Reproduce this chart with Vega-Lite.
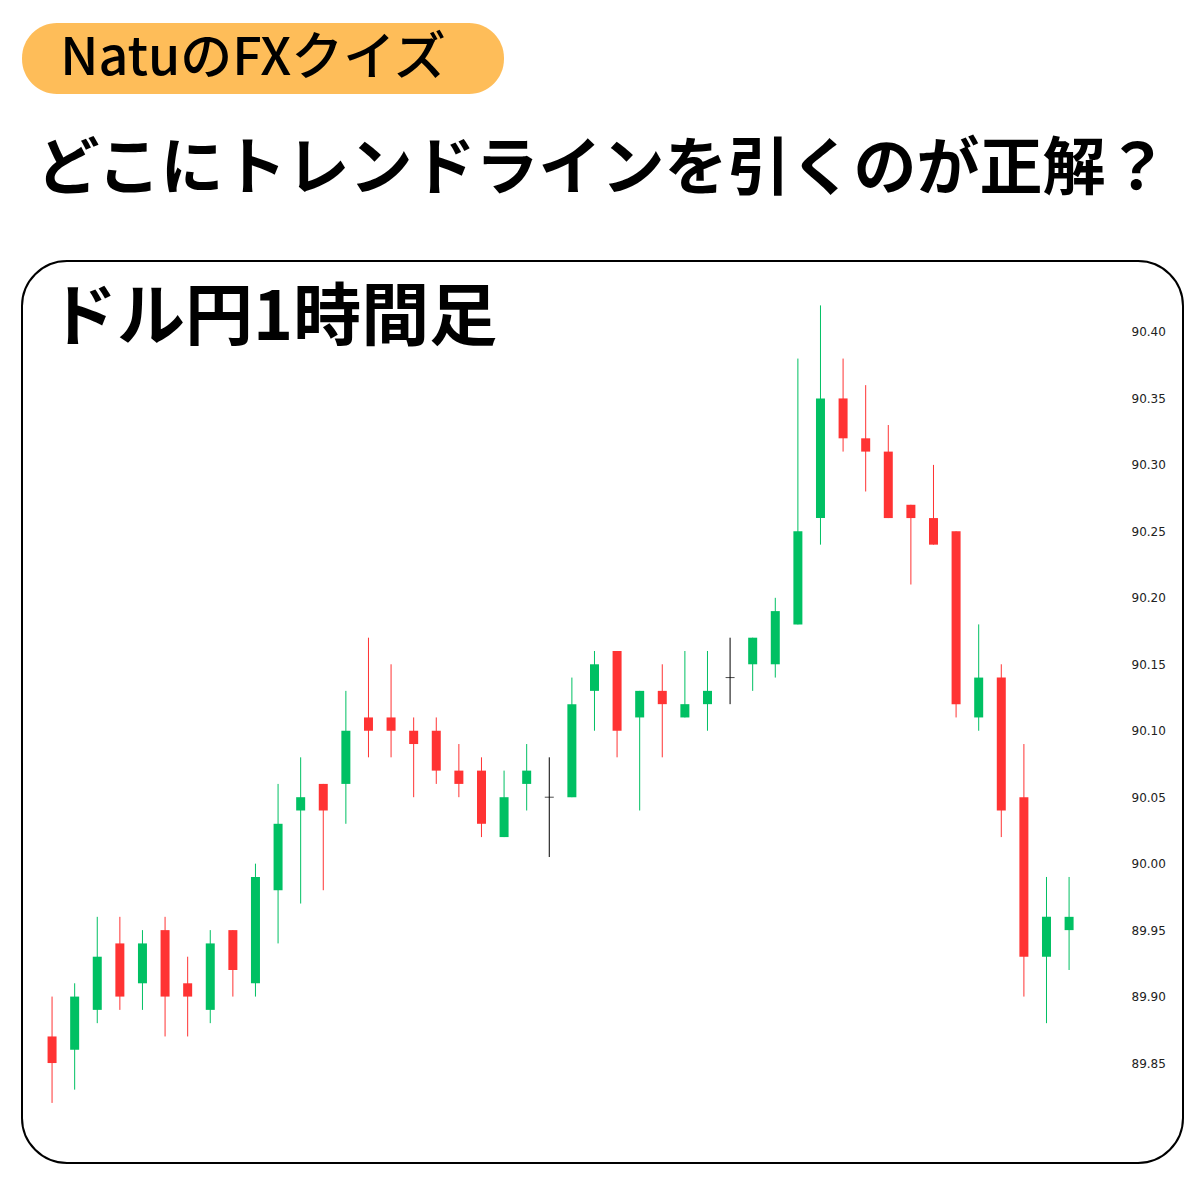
{
  "$schema": "https://vega.github.io/schema/vega-lite/v6.json",
  "background": "white",
  "padding": {"left": 21, "top": 23, "right": 0, "bottom": 0},
  "spacing": 43,
  "config": {"view": {"stroke": null}, "font": "Noto Sans CJK JP"},
  "datasets": {
    "candles": [
      {"i": 1, "open": 89.87, "high": 89.90, "low": 89.82, "close": 89.85},
      {"i": 2, "open": 89.86, "high": 89.91, "low": 89.83, "close": 89.90},
      {"i": 3, "open": 89.89, "high": 89.96, "low": 89.88, "close": 89.93},
      {"i": 4, "open": 89.94, "high": 89.96, "low": 89.89, "close": 89.90},
      {"i": 5, "open": 89.91, "high": 89.95, "low": 89.89, "close": 89.94},
      {"i": 6, "open": 89.95, "high": 89.96, "low": 89.87, "close": 89.90},
      {"i": 7, "open": 89.91, "high": 89.93, "low": 89.87, "close": 89.90},
      {"i": 8, "open": 89.89, "high": 89.95, "low": 89.88, "close": 89.94},
      {"i": 9, "open": 89.95, "high": 89.95, "low": 89.90, "close": 89.92},
      {"i": 10, "open": 89.91, "high": 90.00, "low": 89.90, "close": 89.99},
      {"i": 11, "open": 89.98, "high": 90.06, "low": 89.94, "close": 90.03},
      {"i": 12, "open": 90.04, "high": 90.08, "low": 89.97, "close": 90.05},
      {"i": 13, "open": 90.06, "high": 90.06, "low": 89.98, "close": 90.04},
      {"i": 14, "open": 90.06, "high": 90.13, "low": 90.03, "close": 90.10},
      {"i": 15, "open": 90.11, "high": 90.17, "low": 90.08, "close": 90.10},
      {"i": 16, "open": 90.11, "high": 90.15, "low": 90.08, "close": 90.10},
      {"i": 17, "open": 90.10, "high": 90.11, "low": 90.05, "close": 90.09},
      {"i": 18, "open": 90.10, "high": 90.11, "low": 90.06, "close": 90.07},
      {"i": 19, "open": 90.07, "high": 90.09, "low": 90.05, "close": 90.06},
      {"i": 20, "open": 90.07, "high": 90.08, "low": 90.02, "close": 90.03},
      {"i": 21, "open": 90.02, "high": 90.07, "low": 90.02, "close": 90.05},
      {"i": 22, "open": 90.06, "high": 90.09, "low": 90.04, "close": 90.07},
      {"i": 23, "open": 90.05, "high": 90.08, "low": 90.005, "close": 90.05},
      {"i": 24, "open": 90.05, "high": 90.14, "low": 90.05, "close": 90.12},
      {"i": 25, "open": 90.13, "high": 90.16, "low": 90.10, "close": 90.15},
      {"i": 26, "open": 90.16, "high": 90.16, "low": 90.08, "close": 90.10},
      {"i": 27, "open": 90.11, "high": 90.13, "low": 90.04, "close": 90.13},
      {"i": 28, "open": 90.13, "high": 90.15, "low": 90.08, "close": 90.12},
      {"i": 29, "open": 90.11, "high": 90.16, "low": 90.11, "close": 90.12},
      {"i": 30, "open": 90.12, "high": 90.16, "low": 90.10, "close": 90.13},
      {"i": 31, "open": 90.14, "high": 90.17, "low": 90.12, "close": 90.14},
      {"i": 32, "open": 90.15, "high": 90.17, "low": 90.13, "close": 90.17},
      {"i": 33, "open": 90.15, "high": 90.20, "low": 90.14, "close": 90.19},
      {"i": 34, "open": 90.18, "high": 90.38, "low": 90.18, "close": 90.25},
      {"i": 35, "open": 90.26, "high": 90.42, "low": 90.24, "close": 90.35},
      {"i": 36, "open": 90.35, "high": 90.38, "low": 90.31, "close": 90.32},
      {"i": 37, "open": 90.32, "high": 90.36, "low": 90.28, "close": 90.31},
      {"i": 38, "open": 90.31, "high": 90.33, "low": 90.26, "close": 90.26},
      {"i": 39, "open": 90.27, "high": 90.27, "low": 90.21, "close": 90.26},
      {"i": 40, "open": 90.26, "high": 90.30, "low": 90.24, "close": 90.24},
      {"i": 41, "open": 90.25, "high": 90.25, "low": 90.11, "close": 90.12},
      {"i": 42, "open": 90.11, "high": 90.18, "low": 90.10, "close": 90.14},
      {"i": 43, "open": 90.14, "high": 90.15, "low": 90.02, "close": 90.04},
      {"i": 44, "open": 90.05, "high": 90.09, "low": 89.90, "close": 89.93},
      {"i": 45, "open": 89.93, "high": 89.99, "low": 89.88, "close": 89.96},
      {"i": 46, "open": 89.95, "high": 89.99, "low": 89.92, "close": 89.96}
    ]
  },
  "vconcat": [
    {
      "width": 482,
      "height": 71,
      "view": {"fill": "#FEBD59", "cornerRadius": 35, "stroke": null},
      "data": {"values": [{"label": "NatuのFXクイズ"}]},
      "mark": {"type": "text", "font": "Noto Sans CJK JP", "fontSize": 52, "fontWeight": 500, "color": "#000000", "dx": -10},
      "encoding": {"text": {"field": "label"}}
    },
    {
      "width": 1161,
      "height": 80,
      "data": {"values": [{"label": "どこにトレンドラインを引くのが正解？"}]},
      "mark": {"type": "text", "font": "Noto Sans CJK JP", "fontSize": 63, "fontWeight": "bold", "color": "#000000", "dy": -7},
      "encoding": {"text": {"field": "label"}}
    },
    {
      "width": 1161,
      "height": 902,
      "view": {"stroke": "#000000", "strokeWidth": 2, "cornerRadius": 45, "fill": "white"},
      "data": {"name": "candles"},
      "encoding": {
        "x": {"field": "i", "type": "quantitative", "scale": {"domain": [-0.33, 51.04], "nice": false, "zero": false, "padding": 0}, "axis": null}
      },
      "layer": [
        {
          "mark": {"type": "rule", "strokeWidth": 1},
          "encoding": {
            "y": {
              "field": "low", "type": "quantitative", "title": null,
              "scale": {"domain": [89.7748, 90.4534], "nice": false, "zero": false},
              "axis": {
                "orient": "right", "title": null,
                "values": [89.85, 89.9, 89.95, 90.0, 90.05, 90.1, 90.15, 90.2, 90.25, 90.3, 90.35, 90.4],
                "format": ".2f", "grid": false, "domain": false, "ticks": false,
                "labelFont": "DejaVu Sans", "labelFontSize": 12, "labelColor": "#222222",
                "labelPadding": 0, "offset": -52, "labelAlign": "left", "labelBaseline": "middle"
              }
            },
            "y2": {"field": "high"},
            "color": {
              "condition": [
                {"test": "datum.close > datum.open", "value": "#00C063"},
                {"test": "datum.close < datum.open", "value": "#FF3333"}
              ],
              "value": "#000000"
            }
          }
        },
        {
          "mark": {"type": "bar", "size": 9},
          "encoding": {
            "y": {"field": "open", "type": "quantitative", "title": null},
            "y2": {"field": "close"},
            "color": {
              "condition": [
                {"test": "datum.close > datum.open", "value": "#00C063"},
                {"test": "datum.close < datum.open", "value": "#FF3333"}
              ],
              "value": "#000000"
            }
          }
        },
        {
          "transform": [{"filter": "datum.open == datum.close"}],
          "mark": {"type": "tick", "orient": "horizontal", "size": 9, "thickness": 1, "color": "#000000"},
          "encoding": {
            "y": {"field": "open", "type": "quantitative", "title": null}
          }
        },
        {
          "data": {"values": [{"i": 0.87, "v": 90.409, "label": "ドル円1時間足"}]},
          "mark": {"type": "text", "align": "left", "baseline": "middle", "font": "Noto Sans CJK JP", "fontSize": 68, "fontWeight": "bold", "color": "#000000"},
          "encoding": {
            "y": {"field": "v", "type": "quantitative", "title": null},
            "text": {"field": "label"}
          }
        }
      ]
    }
  ]
}
